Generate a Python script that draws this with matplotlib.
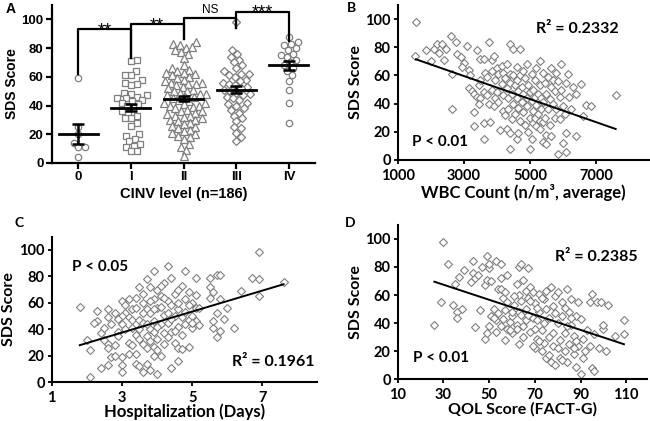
import matplotlib
matplotlib.use("Agg")
import matplotlib.pyplot as plt
import numpy as np

# ---- panel A : SDS score by CINV level ----
cinv_levels = ['0', 'I', 'II', 'III', 'IV']
sds_0 = [59, 25, 20, 14, 11, 11, 4]
sds_1 = [72, 71, 64, 61, 61, 58, 56, 55, 54, 49, 48, 47, 46, 45, 45, 44, 43, 42,
         41, 40, 38, 36, 35, 33, 31, 31, 28, 26, 20, 19, 17, 15, 13, 12, 11, 8, 8]
sds_2 = [84, 83, 82, 81, 80, 79, 77, 76, 73, 68, 66, 65, 64, 63, 63, 62, 61, 60,
         59, 58, 57, 56, 56, 55, 55, 54, 53, 52, 51, 50, 50, 49, 48, 48, 47, 46,
         46, 45, 44, 43, 42, 42, 41, 40, 40, 39, 38, 37, 36, 36, 35, 34, 33, 33,
         32, 31, 30, 30, 29, 28, 27, 26, 25, 24, 23, 22, 21, 20, 19, 18, 17, 13,
         11, 9, 5]
sds_3 = [98, 79, 76, 74, 72, 70, 68, 66, 64, 62, 62, 61, 60, 58, 57, 56, 55, 54,
         53, 52, 51, 50, 49, 48, 47, 46, 45, 44, 42, 41, 40, 38, 37, 35, 33, 31,
         29, 25, 24, 21, 18, 15]
sds_4 = [88, 84, 83, 82, 80, 79, 76, 75, 74, 72, 70, 68, 66, 64, 61, 57, 51, 42, 28]
group_means = [20, 38.5, 44.7, 51, 68]
group_sems = [7, 2.6, 1.9, 2.5, 3.3]
bracket_tops = [93, 97, 101, 105.5]
bracket_feet = [(62, 73), (73, 86), (86, 94), (94, 85)]
sig_labels = ['**', '**', 'NS', '***']

# ---- panel B : WBC count ----
wbc = [1550, 1530, 1850, 2000, 2100, 2200, 2250, 2350, 2400, 2450,
       2600, 2650, 2650, 2750, 2800, 2900, 3000, 2950,
       3100, 3150, 3200, 3150, 3250, 3300, 3300, 3300, 3400, 3450, 3400, 3500, 3500, 3500, 3450,
       3600, 3650, 3600, 3600, 3600, 3700, 3700, 3750, 3750, 3800, 3850, 3850, 3850, 3900, 3900,
       3950, 3950, 4000, 4000,
       4050, 4050, 4100, 4150, 4150, 4200, 4200, 4200, 4250, 4250, 4300, 4300, 4300, 4350, 4350,
       4400, 4400, 4400, 4400, 4400, 4450, 4450, 4500, 4500, 4500,
       4550, 4550, 4600, 4600, 4600, 4600, 4650, 4650, 4650, 4700, 4700, 4700, 4750, 4750, 4800,
       4800, 4800, 4850, 4850, 4900, 4900, 4900, 4950, 4950, 5000, 5000, 5000,
       5050, 5050, 5050, 5100, 5100, 5100, 5150, 5150, 5150, 5200, 5200, 5200, 5250, 5250, 5300,
       5300, 5300, 5300, 5350, 5350, 5400, 5400, 5400, 5400, 5450, 5450, 5500, 5500, 5500,
       5550, 5550, 5600, 5600, 5650, 5650, 5650, 5700, 5700, 5750, 5750, 5800, 5800, 5850, 5850,
       5900, 5900, 5950, 5950, 6000, 6000, 6050, 6100, 6100, 6100,
       6150, 6200, 6250, 6300, 6400, 6400, 6550, 6600, 6700, 6850, 7600]
sds_wbc = [98, 74, 78, 70, 79, 82, 76, 82, 71, 79,
           88, 61, 36, 84, 75, 73, 69, 66,
           81, 64, 60, 51, 49, 47, 34, 24, 78, 53, 45, 72, 57, 44, 40,
           72, 62, 48, 26, 15, 59, 46, 84, 40, 27, 71, 63, 50, 74, 38,
           57, 44, 65, 48,
           61, 41, 21, 67, 54, 62, 46, 35, 58, 32, 68, 51, 22, 44, 36,
           82, 61, 55, 19, 8, 47, 29, 79, 60, 40,
           53, 33, 66, 57, 44, 15, 49, 37, 19, 79, 60, 28, 52, 41, 63,
           47, 34, 58, 25, 68, 44, 38, 53, 20, 48, 8, 30,
           61, 42, 15, 50, 35, 26, 57, 45, 30, 65, 39, 24, 47, 33, 70,
           53, 28, 22, 44, 36, 62, 41, 27, 13, 55, 30, 47, 11, 18,
           59, 36, 43, 25, 65, 52, 17, 57, 40, 49, 30, 62, 36, 56, 4,
           45, 29, 68, 50, 38, 12, 33, 55, 6, 19,
           61, 45, 36, 52, 47, 17, 54, 31, 39, 38, 46]
fit_wbc_x = [1550, 7600]
fit_wbc_y = [71.5, 22]

# ---- panel C : hospitalization days ----
days = [1.8, 2.0, 2.1, 2.1, 2.3, 2.3, 2.2, 2.4, 2.4, 2.5, 2.6, 2.6, 2.6, 2.6, 2.6, 2.7,
        2.8, 2.8, 2.8, 2.9, 2.9, 3.0, 3.0, 3.0, 3.0, 3.0, 3.1, 3.1, 3.2, 3.2, 3.2, 3.3,
        3.3, 3.4, 3.4, 3.4, 3.4, 3.5, 3.5, 3.5, 3.6, 3.6, 3.6, 3.6, 3.7, 3.7, 3.7, 3.7,
        3.7, 3.8, 3.8, 3.8, 3.8, 3.8, 3.9, 3.9, 3.9, 3.9, 3.9, 4.0, 4.0, 4.0, 4.0, 4.0,
        4.1, 4.1, 4.1, 4.2, 4.2, 4.2, 4.3, 4.3, 4.3, 4.4, 4.4, 4.4, 4.4, 4.5, 4.5, 4.5,
        4.6, 4.6, 4.6, 4.6, 4.7, 4.7, 4.7, 4.8, 4.8, 4.8, 4.9, 4.9, 5.0, 5.0, 5.0, 5.1,
        5.1, 5.1, 5.1, 5.2, 5.5, 5.5, 5.5, 5.6, 5.6, 5.7, 5.7, 5.8, 5.8, 5.7, 5.8, 5.9,
        6.0, 6.2, 6.4, 6.7, 6.9, 6.9, 6.9, 7.6,
        3.1, 3.2, 3.3, 3.5, 3.6, 3.7, 3.8, 3.9, 4.0, 4.1, 4.2, 4.3, 4.4, 4.5, 4.6, 4.7,
        4.8, 4.9, 5.0, 3.3, 3.4, 2.7, 2.5, 3.0, 4.2, 4.1, 3.9, 4.6, 5.2, 3.5, 3.6, 4.3,
        4.9, 5.6, 2.9]
sds_days = [57, 32, 24, 4, 54, 46, 45, 11, 37, 41, 55, 49, 29, 26, 13, 19,
            52, 28, 20, 38, 35, 61, 44, 19, 13, 8, 58, 40, 63, 49, 21, 55,
            47, 64, 36, 21, 14, 72, 47, 12, 60, 45, 29, 8, 78, 55, 35, 26,
            14, 72, 52, 40, 31, 9, 84, 63, 46, 38, 27, 70, 56, 33, 24, 6,
            65, 44, 20, 75, 51, 37, 88, 61, 45, 79, 58, 38, 11, 67, 50, 30,
            55, 42, 26, 16, 73, 49, 25, 84, 63, 44, 68, 47, 60, 50, 41, 79,
            66, 56, 46, 56, 79, 72, 64, 68, 41, 81, 52, 81, 39, 34, 63, 48,
            56, 41, 69, 79, 98, 78, 65, 76,
            52, 30, 41, 33, 52, 44, 61, 55, 42, 57, 29, 34, 48, 39, 60, 36,
            53, 27, 45, 28, 56, 44, 32, 50, 64, 73, 20, 70, 43, 40, 67, 52,
            58, 46, 48]
fit_days_x = [1.8, 7.6]
fit_days_y = [28, 74]

# ---- panel D : QOL score ----
qol = [26, 29, 30, 32, 34, 35, 36, 36, 37, 38, 39, 42, 43, 43, 44, 44, 45, 46, 47, 48,
       48, 49, 49, 49, 50, 50, 50, 51, 51, 52, 53, 53, 53, 54, 54, 55, 55, 55, 56, 56,
       57, 57, 58, 58, 58, 59, 60, 60, 61, 62, 62, 63, 63, 63, 64, 64, 65, 65, 66, 66,
       67, 67, 68, 68, 69, 69, 70, 70, 71, 71, 72, 72, 73, 73, 74, 74, 75, 75, 76, 76,
       77, 77, 78, 78, 79, 79, 80, 80, 81, 81, 82, 82, 83, 83, 84, 84, 85, 85, 86, 86,
       87, 87, 88, 88, 89, 89, 90, 90, 91, 91, 92, 93, 94, 94, 95, 95, 96, 96, 97, 98,
       99, 100, 100, 101, 102, 105, 109, 109,
       55, 60, 62, 64, 66, 68, 70, 72, 74, 76, 78, 80, 82, 84, 86, 88, 57, 61, 65, 52,
       59, 63, 67, 71, 75, 79, 83, 87, 69, 73]
sds_qol = [39, 55, 98, 82, 53, 68, 48, 44, 73, 50, 78, 69, 76, 84, 37, 72, 74, 49, 80, 29,
           67, 88, 33, 71, 79, 82, 38, 45, 70, 50, 42, 84, 34, 64, 47, 82, 72, 38, 58, 43,
           49, 28, 36, 74, 55, 41, 33, 45, 53, 39, 36, 80, 60, 48, 56, 82, 38, 30, 63, 50,
           79, 58, 34, 66, 44, 62, 54, 22, 42, 29, 48, 61, 35, 20, 57, 26, 50, 15, 44, 30,
           66, 12, 52, 24, 59, 10, 40, 62, 28, 15, 55, 45, 33, 20, 64, 12, 48, 25, 39, 57,
           18, 31, 45, 9, 55, 24, 43, 4, 15, 29, 20, 35, 55, 24, 61, 8, 32, 6, 55, 22,
           55, 36, 39, 20, 53, 31, 42, 32,
           64, 48, 68, 46, 42, 56, 36, 27, 40, 17, 33, 22, 14, 38, 44, 27, 62, 59, 71, 44,
           35, 25, 46, 51, 63, 47, 51, 22, 24, 58]
fit_qol_x = [26, 109]
fit_qol_y = [69.5, 25]

grey = '#7f7f7f'
calibri_like = ['Lato', 'DejaVu Sans']
arial_like = ['Liberation Sans', 'DejaVu Sans']


def swarm_offsets(vals, ppu_x, ppu_y, diam):
    # simple beeswarm: put each point as close to the centre as it can go
    ys = np.asarray(vals, float) * ppu_y
    xs = np.zeros(len(ys))
    px, py = [], []
    for i in np.argsort(ys):
        y = ys[i]
        cands = [0.0]
        for a, b in zip(px, py):
            dy = abs(y - b)
            if dy < diam:
                dx = np.sqrt(diam ** 2 - dy ** 2)
                cands += [a + dx, a - dx]
        cands.sort(key=abs)
        for c in cands:
            if all((c - a) ** 2 + (y - b) ** 2 >= diam ** 2 - 1e-6 for a, b in zip(px, py)):
                break
        xs[i] = c
        px.append(c)
        py.append(y)
    return xs / ppu_x


fig = plt.figure(figsize=(6.5, 4.21), dpi=100)

# ---------------- A ----------------
axA = fig.add_axes([0.080, 0.613, 0.405, 0.375])
groups = [sds_0, sds_1, sds_2, sds_3, sds_4]
markers = ['o', 's', '^', 'D', 'o']
msizes = [4.6, 4.8, 5.2, 4.2, 4.6]
for i, vals in enumerate(groups):
    offs = swarm_offsets(vals, 52.3, 1.437, 6.3)
    axA.plot(i + offs, vals, linestyle='none', marker=markers[i], ms=msizes[i],
             mfc='white', mec=grey, mew=0.9, zorder=2)
    axA.plot([i - 0.37, i + 0.37], [group_means[i]] * 2, color='black', lw=2, zorder=3)
    axA.errorbar(i, group_means[i], yerr=group_sems[i], color='black', lw=1.8,
                 capsize=4.5, capthick=1.8, zorder=3)

for j in range(4):
    top = bracket_tops[j]
    lo, hi = bracket_feet[j]
    axA.plot([j, j, j + 1, j + 1], [lo, top, top, hi], color='black', lw=1.6,
             clip_on=False, zorder=4)
    if sig_labels[j] == 'NS':
        axA.text(j + 0.5, top + 1.2, 'NS', ha='center', va='bottom', fontsize=8.5,
                 family=arial_like)
    else:
        axA.text(j + 0.5, top - 4.5, sig_labels[j], ha='center', va='baseline',
                 fontsize=13, family=arial_like)

axA.set_xlim(-0.5, 4.5)
axA.set_ylim(0, 110)
axA.set_xticks(range(5))
axA.set_xticklabels(cinv_levels)
axA.set_yticks([0, 20, 40, 60, 80, 100])
axA.spines['top'].set_visible(False)
axA.spines['right'].set_visible(False)
for s in ['left', 'bottom']:
    axA.spines[s].set_linewidth(1.6)
axA.tick_params(width=1.6, length=4, labelsize=9.5, pad=2)
for lab in axA.get_xticklabels() + axA.get_yticklabels():
    lab.set_fontweight('bold')
    lab.set_family(arial_like)
axA.set_xlabel('CINV level (n=186)', fontsize=10.5, fontweight='bold', family=arial_like,
               labelpad=3)
axA.set_ylabel('SDS Score', fontsize=10, fontweight='bold', family=arial_like, labelpad=2)


# ---------------- B, C, D ----------------
def scatter_panel(rect, x, y, fx, fy, xlim, xticks, xlabel, xsize, labelpad):
    ax = fig.add_axes(rect)
    ax.plot(x, y, linestyle='none', marker='D', ms=4.5, mfc='white', mec=grey,
            mew=0.8, zorder=2)
    ax.plot(fx, fy, color='black', lw=1.4, zorder=3)
    ax.set_xlim(*xlim)
    ax.set_ylim(0, 110)
    ax.set_xticks(xticks)
    ax.set_yticks([0, 20, 40, 60, 80, 100])
    ax.spines['top'].set_visible(False)
    ax.spines['right'].set_visible(False)
    for s in ['left', 'bottom']:
        ax.spines[s].set_linewidth(1.5)
    ax.tick_params(width=1.3, length=3, labelsize=10.5, pad=2)
    ax.tick_params(axis='x', pad=3.5)
    for lab in ax.get_xticklabels() + ax.get_yticklabels():
        lab.set_fontweight('bold')
        lab.set_family(calibri_like)
    ax.set_xlabel(xlabel, fontsize=xsize, fontweight='bold', family=calibri_like,
                  labelpad=labelpad)
    ax.set_ylabel('SDS Score', fontsize=11.5, fontweight='bold', family=calibri_like,
                  labelpad=2)
    return ax


axB = scatter_panel([0.612, 0.620, 0.386, 0.368], wbc, sds_wbc, fit_wbc_x, fit_wbc_y,
                    (1000, 8600), [1000, 3000, 5000, 7000], 'WBC Count (n/m³, average)',
                    12, 1)
axB.text(7700, 93, 'R² = 0.2332', ha='right', va='center', fontsize=11.5,
         fontweight='bold', family=calibri_like)
axB.text(1440, 13, 'P < 0.01', ha='left', va='center', fontsize=11,
         fontweight='bold', family=calibri_like)

axC = scatter_panel([0.0795, 0.092, 0.408, 0.346], days, sds_days, fit_days_x, fit_days_y,
                    (1, 8.55), [1, 3, 5, 7], 'Hospitalization (Days)', 12, -1)
axC.text(1.57, 87, 'P < 0.05', ha='left', va='center', fontsize=11,
         fontweight='bold', family=calibri_like)
axC.text(8.47, 15.5, 'R² = 0.1961', ha='right', va='center', fontsize=11.5,
         fontweight='bold', family=calibri_like)

axD = scatter_panel([0.612, 0.099, 0.383, 0.367], qol, sds_qol, fit_qol_x, fit_qol_y,
                    (10, 119), [10, 30, 50, 70, 90, 110], 'QOL Score (FACT-G)', 11.5, 0)
axD.text(115, 87, 'R² = 0.2385', ha='right', va='center', fontsize=11.5,
         fontweight='bold', family=calibri_like)
axD.text(16.8, 15, 'P < 0.01', ha='left', va='center', fontsize=11,
         fontweight='bold', family=calibri_like)

# panel letters
fig.text(0.008, 0.978, 'A', fontsize=10, fontweight='bold', family=arial_like, va='center')
fig.text(0.533, 0.980, 'B', fontsize=10, fontweight='bold', family=calibri_like, va='center')
fig.text(0.022, 0.470, 'C', fontsize=10, fontweight='bold', family=calibri_like, va='center')
fig.text(0.530, 0.470, 'D', fontsize=10, fontweight='bold', family=calibri_like, va='center')

fig.savefig('out.png', dpi=100)
